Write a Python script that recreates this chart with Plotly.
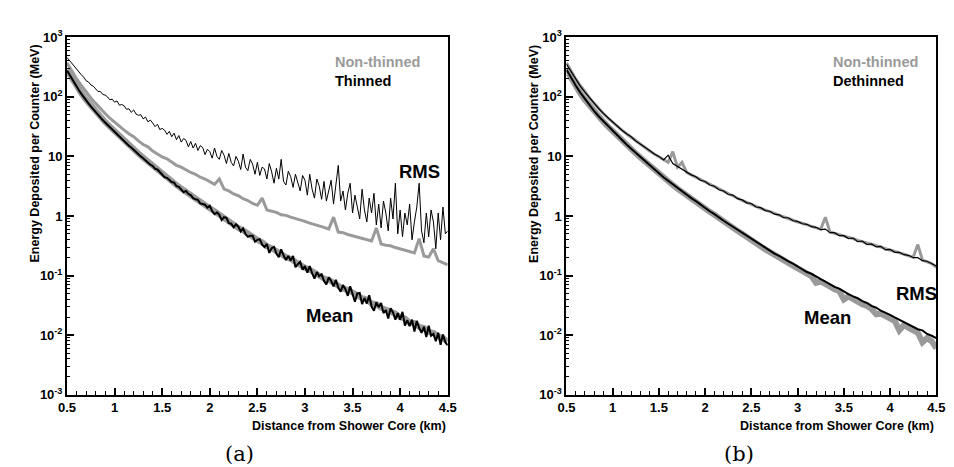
import plotly.graph_objects as go

W, H = 954, 467

# ---- data (log10 of energy deposited per counter, MeV) ----
# coarse distance grid: 0.5 .. 4.5 km step 0.05 ; fine grid: step 0.025
x_coarse = [round(0.5 + 0.05 * i, 3) for i in range(81)]
x_fine = [round(0.5 + 0.025 * i, 3) for i in range(161)]

left_nonthinned_mean = [
    2.45, 2.31, 2.18, 2.06, 1.95, 1.85, 1.75, 1.66, 1.58, 1.50,
    1.42, 1.35, 1.27, 1.20, 1.12, 1.05, 0.98, 0.91, 0.84, 0.78,
    0.71, 0.65, 0.58, 0.52, 0.46, 0.40, 0.35, 0.30, 0.24, 0.18,
    0.13, 0.08, 0.02, -0.04, -0.09, -0.13, -0.20, -0.24, -0.30, -0.36,
    -0.40, -0.44, -0.51, -0.54, -0.60, -0.63, -0.69, -0.72, -0.78, -0.81,
    -0.87, -0.90, -0.96, -0.99, -1.05, -1.07, -1.13, -1.16, -1.22, -1.24,
    -1.30, -1.33, -1.38, -1.40, -1.47, -1.48, -1.54, -1.57, -1.62, -1.64,
    -1.70, -1.72, -1.79, -1.80, -1.86, -1.88, -1.95, -1.96, -2.02, -2.05,
    -2.11]

left_nonthinned_rms = [
    2.57, 2.43, 2.30, 2.19, 2.08, 1.98, 1.89, 1.80, 1.72, 1.64,
    1.57, 1.50, 1.44, 1.38, 1.33, 1.26, 1.20, 1.16, 1.09, 1.04,
    0.99, 0.96, 0.90, 0.85, 0.82, 0.77, 0.73, 0.70, 0.65, 0.62,
    0.57, 0.53, 0.62, 0.45, 0.42, 0.37, 0.34, 0.29, 0.26, 0.21,
    0.18, 0.30, 0.10, 0.08, 0.06, 0.02, 0.01, -0.02, -0.04, -0.07,
    -0.09, -0.12, -0.14, -0.17, -0.19, -0.22, -0.02, -0.27, -0.28, -0.31,
    -0.33, -0.35, -0.38, -0.40, -0.42, -0.20, -0.47, -0.49, -0.50, -0.53,
    -0.55, -0.58, -0.60, -0.62, -0.38, -0.67, -0.69, -0.55, -0.75, -0.78,
    -0.82]

left_thinned_rms = [
    2.66, 2.61, 2.56, 2.50, 2.46, 2.40, 2.37, 2.33, 2.27, 2.25, 2.20, 2.18,
    2.14, 2.09, 2.09, 2.04, 2.03, 2.00, 1.95, 1.96, 1.91, 1.93, 1.86, 1.87,
    1.85, 1.79, 1.80, 1.74, 1.78, 1.71, 1.69, 1.70, 1.63, 1.66, 1.58, 1.61,
    1.56, 1.50, 1.54, 1.45, 1.47, 1.44, 1.37, 1.42, 1.33, 1.39, 1.28, 1.35,
    1.24, 1.30, 1.27, 1.16, 1.25, 1.14, 1.22, 1.10, 1.18, 1.15, 1.03, 1.12,
    1.08, 0.97, 1.14, 1.00, 0.95, 1.10, 1.02, 0.88, 1.05, 0.90, 0.84, 1.00,
    0.92, 0.78, 1.04, 0.82, 0.76, 0.95, 0.87, 0.70, 0.90, 0.68, 0.82, 0.79,
    0.62, 0.88, 0.74, 0.55, 0.80, 0.62, 0.95, 0.58, 0.52, 0.75, 0.66, 0.48,
    0.70, 0.55, 0.42, 0.68, 0.60, 0.35, 0.70, 0.45, 0.30, 0.62, 0.50, 0.28,
    0.58, 0.25, 0.45, 0.60, 0.20, 0.48, 0.85, 0.25, 0.42, 0.10, 0.38, 0.55,
    0.05, 0.35, 0.15, -0.05, 0.45, 0.10, -0.10, 0.30, 0.05, 0.38, -0.15, 0.20,
    -0.20, 0.25, 0.05, -0.25, 0.30, -0.05, 0.55, -0.30, 0.10, -0.35, 0.05, -0.15,
    0.20, -0.40, -0.10, 0.15, 0.55, -0.25, -0.45, 0.05, -0.35, 0.10, -0.10, -0.55,
    0.05, -0.40, 0.15, -0.30, -0.25]

left_thinned_mean = [
    2.44, 2.37, 2.30, 2.23, 2.17, 2.11, 2.05, 1.99, 1.94, 1.89, 1.84, 1.79,
    1.74, 1.69, 1.65, 1.61, 1.57, 1.53, 1.49, 1.45, 1.41, 1.37, 1.33, 1.30,
    1.26, 1.22, 1.18, 1.15, 1.11, 1.07, 1.04, 1.00, 0.97, 0.93, 0.90, 0.86,
    0.84, 0.79, 0.78, 0.73, 0.69, 0.65, 0.64, 0.60, 0.57, 0.56, 0.50, 0.49,
    0.45, 0.40, 0.42, 0.37, 0.35, 0.30, 0.28, 0.27, 0.21, 0.20, 0.19, 0.14,
    0.17, 0.08, 0.03, 0.06, 0.02, -0.07, -0.02, -0.03, -0.12, -0.13, -0.19, -0.14,
    -0.18, -0.26, -0.21, -0.30, -0.35, -0.33, -0.33, -0.43, -0.40, -0.39, -0.48, -0.52,
    -0.47, -0.62, -0.54, -0.52, -0.63, -0.69, -0.56, -0.66, -0.74, -0.67, -0.75, -0.67,
    -0.86, -0.81, -0.77, -0.90, -0.84, -0.95, -0.84, -0.96, -1.05, -0.94, -1.01, -0.98,
    -1.09, -1.15, -1.03, -1.09, -1.18, -1.07, -1.20, -1.27, -1.16, -1.23, -1.34, -1.18,
    -1.32, -1.44, -1.30, -1.29, -1.48, -1.38, -1.47, -1.33, -1.52, -1.59, -1.45, -1.53,
    -1.46, -1.63, -1.58, -1.72, -1.55, -1.62, -1.74, -1.63, -1.74, -1.61, -1.84, -1.75,
    -1.85, -1.74, -1.94, -1.76, -1.88, -1.96, -1.86, -2.03, -1.84, -2.01, -1.98, -2.10,
    -1.96, -2.16, -1.99, -2.12, -2.17]

right_nonthinned_mean = [
    2.45, 2.31, 2.18, 2.06, 1.95, 1.85, 1.75, 1.66, 1.58, 1.50,
    1.42, 1.34, 1.27, 1.19, 1.12, 1.05, 0.98, 0.91, 0.84, 0.77,
    0.71, 0.64, 0.58, 0.52, 0.46, 0.40, 0.35, 0.29, 0.24, 0.18,
    0.13, 0.07, 0.02, -0.04, -0.09, -0.14, -0.20, -0.25, -0.30, -0.36,
    -0.41, -0.46, -0.51, -0.56, -0.61, -0.65, -0.70, -0.75, -0.79, -0.83,
    -0.88, -0.92, -0.97, -1.01, -1.12, -1.10, -1.14, -1.19, -1.23, -1.26,
    -1.40, -1.35, -1.40, -1.43, -1.48, -1.51, -1.56, -1.65, -1.64, -1.68,
    -1.72, -1.76, -1.92, -1.83, -1.88, -1.91, -1.96, -2.12, -2.05, -2.10,
    -2.22]

right_nonthinned_rms = [
    2.57, 2.43, 2.30, 2.19, 2.08, 1.98, 1.89, 1.80, 1.72, 1.64,
    1.57, 1.50, 1.44, 1.38, 1.32, 1.26, 1.20, 1.15, 1.09, 1.04,
    0.99, 0.95, 0.90, 1.08, 0.82, 0.90, 0.73, 0.69, 0.65, 0.61,
    0.57, 0.53, 0.49, 0.45, 0.41, 0.37, 0.34, 0.30, 0.26, 0.23,
    0.19, 0.16, 0.13, 0.10, 0.07, 0.04, 0.01, -0.02, -0.04, -0.07,
    -0.10, -0.12, -0.15, -0.17, -0.20, -0.22, -0.02, -0.27, -0.29, -0.31,
    -0.34, -0.36, -0.38, -0.41, -0.43, -0.46, -0.48, -0.50, -0.52, -0.55,
    -0.57, -0.60, -0.62, -0.64, -0.67, -0.69, -0.48, -0.74, -0.77, -0.80,
    -0.86]

right_dethinned_rms = [
    2.55, 2.42, 2.30, 2.18, 2.08, 1.98, 1.89, 1.80, 1.72, 1.65,
    1.57, 1.51, 1.44, 1.38, 1.33, 1.26, 1.21, 1.15, 1.10, 1.04,
    1.00, 0.94, 1.02, 0.88, 0.83, 0.79, 0.74, 0.69, 0.66, 0.60,
    0.58, 0.52, 0.50, 0.44, 0.42, 0.36, 0.35, 0.29, 0.27, 0.22,
    0.21, 0.15, 0.14, 0.09, 0.08, 0.03, 0.02, -0.03, -0.03, -0.08,
    -0.09, -0.13, -0.14, -0.18, -0.19, -0.23, -0.22, -0.28, -0.28, -0.33,
    -0.33, -0.38, -0.37, -0.43, -0.42, -0.48, -0.47, -0.52, -0.51, -0.57,
    -0.56, -0.61, -0.61, -0.65, -0.66, -0.70, -0.70, -0.75, -0.76, -0.80,
    -0.84]

right_dethinned_mean = [
    2.46, 2.32, 2.19, 2.07, 1.96, 1.86, 1.76, 1.67, 1.59, 1.51,
    1.43, 1.35, 1.28, 1.20, 1.13, 1.06, 0.99, 0.92, 0.85, 0.78,
    0.72, 0.65, 0.59, 0.53, 0.47, 0.41, 0.36, 0.30, 0.25, 0.19,
    0.14, 0.08, 0.03, -0.03, -0.08, -0.13, -0.18, -0.24, -0.29, -0.34,
    -0.39, -0.44, -0.49, -0.53, -0.58, -0.63, -0.67, -0.72, -0.76, -0.80,
    -0.85, -0.89, -0.94, -0.97, -1.02, -1.06, -1.10, -1.15, -1.19, -1.22,
    -1.27, -1.31, -1.35, -1.38, -1.43, -1.46, -1.51, -1.54, -1.59, -1.62,
    -1.66, -1.70, -1.74, -1.77, -1.82, -1.85, -1.90, -1.92, -1.98, -2.01,
    -2.05]

x_tickvals = [0.5, 1, 1.5, 2, 2.5, 3, 3.5, 4, 4.5]
x_ticktext = ["0.5", "1", "1.5", "2", "2.5", "3", "3.5", "4", "4.5"]
y_tickvals = [1e-3, 1e-2, 1e-1, 1, 10, 100, 1000]
y_ticktext = ["10<sup>-3</sup>", "10<sup>-2</sup>", "10<sup>-1</sup>", "1", "10",
              "10<sup>2</sup>", "10<sup>3</sup>"]


def mev(logs):
    return [10 ** v for v in logs]


GREY = "#9a9a9a"
BLACK = "#000000"
FONT = "Arial, Liberation Sans, sans-serif"

fig = go.Figure()

# left panel (a)
fig.add_trace(go.Scatter(x=x_coarse, y=mev(left_nonthinned_mean), mode="lines",
                         line=dict(color=GREY, width=6), xaxis="x", yaxis="y"))
fig.add_trace(go.Scatter(x=x_coarse, y=mev(left_nonthinned_rms), mode="lines",
                         line=dict(color=GREY, width=3), xaxis="x", yaxis="y"))
fig.add_trace(go.Scatter(x=x_fine, y=mev(left_thinned_rms), mode="lines",
                         line=dict(color=BLACK, width=1), xaxis="x", yaxis="y"))
fig.add_trace(go.Scatter(x=x_fine, y=mev(left_thinned_mean), mode="lines",
                         line=dict(color=BLACK, width=2), xaxis="x", yaxis="y"))

# right panel (b)
fig.add_trace(go.Scatter(x=x_coarse, y=mev(right_nonthinned_mean), mode="lines",
                         line=dict(color=GREY, width=6), xaxis="x2", yaxis="y2"))
fig.add_trace(go.Scatter(x=x_coarse, y=mev(right_nonthinned_rms), mode="lines",
                         line=dict(color=GREY, width=3), xaxis="x2", yaxis="y2"))
fig.add_trace(go.Scatter(x=x_coarse, y=mev(right_dethinned_rms), mode="lines",
                         line=dict(color=BLACK, width=1.2), xaxis="x2", yaxis="y2"))
fig.add_trace(go.Scatter(x=x_coarse, y=mev(right_dethinned_mean), mode="lines",
                         line=dict(color=BLACK, width=2), xaxis="x2", yaxis="y2"))

# plot-area pixel boxes
L1, R1 = 51, 439
L2, R2 = 560, 937
TOP, BOT = 21, 392

ydom = [1 - BOT / H, 1 - TOP / H]

minor_y = []
for e in range(-3, 3):
    for m in range(2, 10):
        minor_y.append(m * 10 ** e)
minor_x = [round(0.5 + 0.1 * i, 2) for i in range(41)]


def xaxis(dom, anchor):
    return dict(domain=dom, anchor=anchor, range=[0.5, 4.5], showgrid=False, zeroline=False,
                tickmode="array", tickvals=x_tickvals, ticktext=x_ticktext,
                ticks="inside", ticklen=7, tickwidth=1.5, tickcolor="black",
                showline=True, linecolor="black", linewidth=2, mirror=True,
                tickfont=dict(family=FONT, size=13, color="black", weight="bold"),
                minor=dict(tickmode="array", tickvals=minor_x, ticks="inside",
                           ticklen=4, tickwidth=1, tickcolor="black"))


def yaxis(anchor):
    return dict(domain=ydom, anchor=anchor, type="log", range=[-3, 3], showgrid=False,
                zeroline=False, tickmode="array", tickvals=y_tickvals, ticktext=y_ticktext,
                ticks="inside", ticklen=7, tickwidth=1.5, tickcolor="black",
                showline=True, linecolor="black", linewidth=2, mirror=True,
                tickfont=dict(family=FONT, size=13, color="black", weight="bold"),
                minor=dict(tickmode="array", tickvals=minor_y, ticks="inside",
                           ticklen=3, tickwidth=1, tickcolor="black"))


def px(x):
    return x / W


def py(y):
    return 1 - y / H


ann = []


def text(x, y, s, size, color="black", bold=True, family=FONT, xanchor="center",
         angle=0):
    ann.append(dict(x=px(x), y=py(y), xref="paper", yref="paper", text=s,
                    showarrow=False, xanchor=xanchor, yanchor="middle", textangle=angle,
                    font=dict(family=family, size=size, color=color,
                              weight="bold" if bold else "normal")))


for (l, r, cap, lab2) in [(L1, R1, "(a)", "Thinned"), (L2, R2, "(b)", "Dethinned")]:
    text(r, 424, "Distance from Shower Core (km)", 12.5, xanchor="right")
    text(l - 33, 142, "Energy Deposited per Counter (MeV)", 12.5, angle=-90)
    text(l + 176, 453, cap, 21, bold=False, family="DejaVu Serif")
    text(r - 117 if l == L1 else r - 107, 47, "Non-thinned", 14.5, color=GREY, xanchor="left")
    text(r - 117 if l == L1 else r - 107, 66, lab2, 14.5, xanchor="left")

text(410, 160, "RMS", 18.5)
text(318, 310, "Mean", 18.5)
text(917, 287, "RMS", 18.5)
text(826, 312, "Mean", 18.5)

fig.update_layout(
    width=W, height=H, margin=dict(l=0, r=0, t=0, b=0),
    paper_bgcolor="white", plot_bgcolor="white", showlegend=False,
    xaxis=xaxis([px(L1), px(R1)], "y"), yaxis=yaxis("x"),
    xaxis2=xaxis([px(L2), px(R2)], "y2"), yaxis2=yaxis("x2"),
    annotations=ann,
)

fig.write_html("out.html")
